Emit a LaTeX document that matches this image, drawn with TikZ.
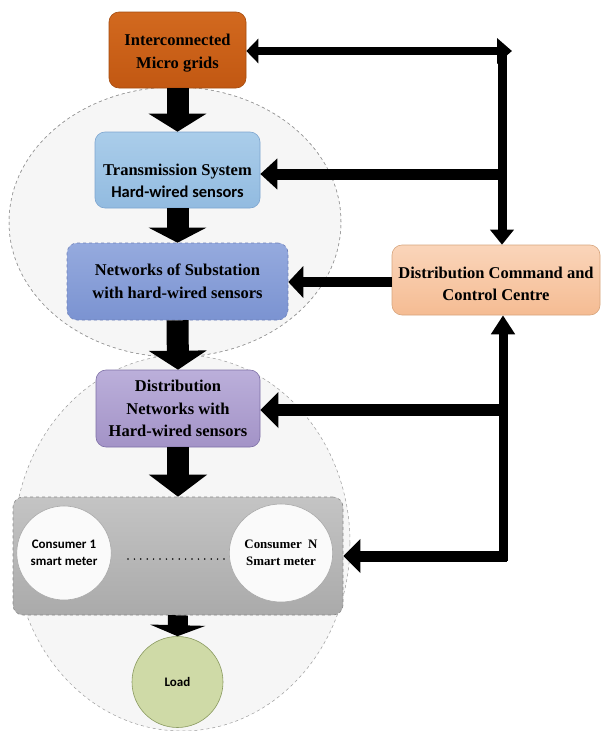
\documentclass[tikz,border=0pt]{standalone}
\usepackage{fontspec}
\setmainfont{Liberation Serif}
\newfontfamily\calfont{Carlito}
\usetikzlibrary{arrows.meta,shapes.geometric}
\definecolor{imtop}{HTML}{D2691F}
\definecolor{imbot}{HTML}{C25812}
\definecolor{imdraw}{HTML}{A44C10}
\definecolor{tstop}{HTML}{AACDEA}
\definecolor{tsbot}{HTML}{92BBE0}
\definecolor{tsdraw}{HTML}{7DA5CF}
\definecolor{nstop}{HTML}{95AADE}
\definecolor{nsbot}{HTML}{7B93D1}
\definecolor{nsdraw}{HTML}{6E80B8}
\definecolor{cctop}{HTML}{FAD5BA}
\definecolor{ccbot}{HTML}{F5BC93}
\definecolor{ccdraw}{HTML}{D7A57D}
\definecolor{dntop}{HTML}{BBAFDA}
\definecolor{dnbot}{HTML}{A393C7}
\definecolor{dndraw}{HTML}{7E70A6}
\definecolor{grtop}{HTML}{C4C4C4}
\definecolor{grbot}{HTML}{AAAAAA}
\definecolor{grdraw}{HTML}{8A8A8A}
\definecolor{ldfill}{HTML}{CFDAA7}
\definecolor{lddraw}{HTML}{8A9A60}
\definecolor{cofill}{HTML}{FAFAFA}
\definecolor{codraw}{HTML}{AAAAAA}
\definecolor{outfill}{HTML}{F6F6F6}
\definecolor{outdraw}{HTML}{9A9A9A}
\tikzset{
  mainbox/.style={rounded corners=10pt, inner sep=0pt, line width=0.6pt},
  serif/.style={font=\fontsize{16.5}{22.5}\selectfont\bfseries, align=center},
  small/.style={font=\calfont\fontsize{13}{16.5}\selectfont\bfseries, align=center},
  outer/.style={ellipse, draw=outdraw, fill=outfill, dashed, line width=0.5pt, inner sep=0pt},
  bigarrow/.style={line width=22pt, -{Triangle[width=57pt,length=#1]}},
  bigarrow/.default=18pt,
  dotline/.style={line width=1.7pt, line cap=round, dash pattern=on 0pt off 6.4pt}
}
\begin{document}
\begin{tikzpicture}[x=1pt,y=-1pt]
\useasboundingbox[fill=white] (0,0) rectangle (602,731);
% outer ellipses
\node[outer, minimum width=332pt, minimum height=270pt] (eu) at (175,222) {};
\node[outer, minimum width=336pt, minimum height=376pt] (el) at (182,543) {};
\draw[draw=outdraw, dashed, line width=0.5pt] (eu.center) ellipse [x radius=166pt, y radius=135pt];
% boxes
\node[mainbox, top color=imtop, bottom color=imbot, draw=imdraw, minimum width=137pt, minimum height=76pt] (im) at (177.5,50) {};
\node[serif] (imt) at (177.5,53) {Interconnected\\Micro grids};
\node[mainbox, top color=tstop, bottom color=tsbot, draw=tsdraw, minimum width=165pt, minimum height=76pt] (ts) at (177.5,170) {};
\node[serif] (tst) at (177.5,181) {Transmission System\\{\calfont Hard-wired sensors}};
\node[mainbox, top color=nstop, bottom color=nsbot, draw=nsdraw, dashed, minimum width=221pt, minimum height=77pt, serif] (ns) at (177.5,281.5) {Networks of Substation\\with hard-wired sensors};
\node[mainbox, top color=cctop, bottom color=ccbot, draw=ccdraw, minimum width=208pt, minimum height=70pt] (cc) at (496,280) {};
\node[serif] (cct) at (496,284) {Distribution Command and\\Control Centre};
\node[mainbox, top color=dntop, bottom color=dnbot, draw=dndraw, minimum width=164pt, minimum height=77pt, serif] (dn) at (178,408.5) {Distribution\\Networks with\\Hard-wired sensors};
\node[mainbox, top color=grtop, bottom color=grbot, draw=grdraw, dashed, minimum width=330pt, minimum height=118pt] (gr) at (178,556) {};
\node[ellipse, fill=cofill, draw=codraw, line width=0.6pt, minimum width=92pt, minimum height=94pt, inner sep=0pt, small] (c1) at (64,553) {Consumer 1\\smart meter};
\node[ellipse, fill=cofill, draw=codraw, line width=0.6pt, minimum width=96pt, minimum height=98pt, inner sep=0pt, font=\fontsize{12.9}{16.5}\selectfont\bfseries, align=center] (cn) at (281,553) {Consumer~~N\\Smart meter};
\coordinate (d1) at (128,559);
\coordinate (d2) at (230,559);
\draw[dotline] (d1) -- (d2);
\node[circle, fill=ldfill, draw=lddraw, line width=0.6pt, minimum size=91pt, inner sep=0pt, small] (ld) at (177.5,682) {Load};
% vertical block arrows
\draw[bigarrow=18pt] (im.south) -- (ts.north);
\draw[bigarrow=15pt] (ts.south) -- (ns.north);
\draw[bigarrow=19pt] (ns.south) -- (dn.north);
\draw[bigarrow=22pt] (dn.south) -- (gr.north);
\draw[line width=20pt, -{Triangle[width=55pt,length=11pt]}] (gr.south) -- (ld.north);
% right side connectors
\coordinate (tr) at (512,51);
\coordinate (vt) at (502,47);
\coordinate (v1) at (506,174);
\coordinate (vb) at (503,561);
\coordinate (v2) at (506,410);
\coordinate (v3) at (507,556);
\draw[line width=8pt, {Triangle[width=24pt,length=12pt]}-{Triangle[width=25pt,length=15pt]}] (im.east |- tr) -- (tr);
\draw[line width=9pt, -{Triangle[width=23pt,length=15pt]}] (vt) -- (vt |- cc.north);
\draw[line width=11pt, -{Triangle[width=30pt,length=17pt]}] (v1) -- (v1 -| ts.east);
\draw[line width=10pt, -{Triangle[width=31pt,length=15pt]}] (cc.west |- 0,282) -- (ns.east |- 0,282);
\draw[line width=9pt, -{Triangle[width=23pt,length=19pt]}] (vb) -- (vb |- cc.south);
\draw[line width=12pt, -{Triangle[width=35pt,length=18pt]}] (v2) -- (v2 -| dn.east);
\draw[line width=11pt, -{Triangle[width=33pt,length=17pt]}] (v3) -- (v3 -| gr.east);
\end{tikzpicture}
\end{document}
